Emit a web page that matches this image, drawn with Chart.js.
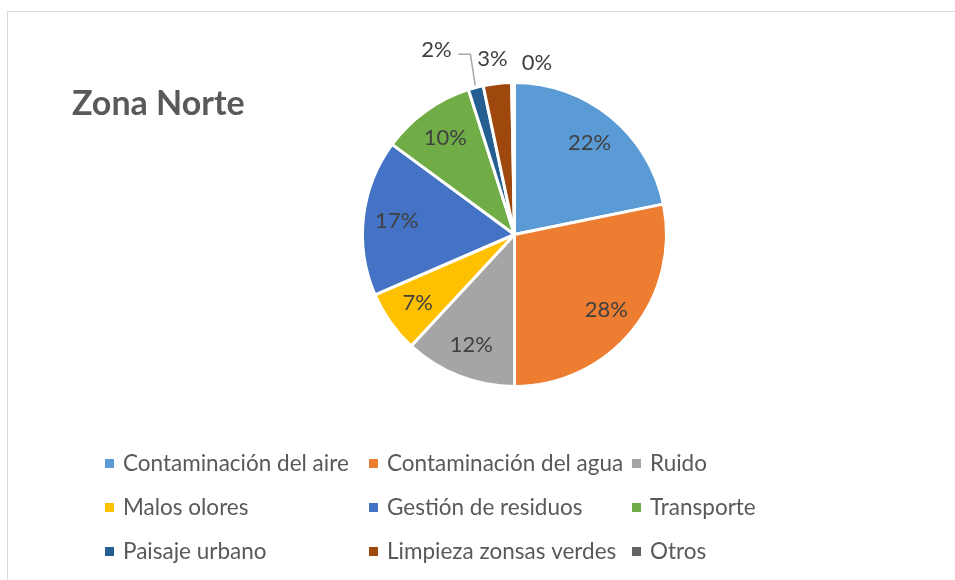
<!DOCTYPE html>
<html>
<head>
<meta charset="utf-8">
<script src="https://cdn.jsdelivr.net/npm/chart.js@4.4.1/dist/chart.umd.min.js"></script>
<style>
    html, body { margin: 0; padding: 0; background: #fff; }
    #wrap { position: relative; width: 955px; height: 580px; }
    #frame {
        position: absolute; left: 7px; top: 11px; right: 0; bottom: 0;
        border-left: 1px solid #d9d9d9; border-top: 1px solid #d9d9d9;
    }
    canvas { position: absolute; left: 0; top: 0; }
</style>
</head>
<body>
<div id="wrap">
    <div id="frame"></div>
    <canvas id="pieChart" width="955" height="580"></canvas>
</div>
<script>
const chartTitle = "Zona Norte";
const categories = [
    "Contaminación del aire", "Contaminación del agua", "Ruido",
    "Malos olores", "Gestión de residuos", "Transporte",
    "Paisaje urbano", "Limpieza zonsas verdes", "Otros"
];
// shares in percent
const shares = [21.8, 28.2, 11.9, 6.6, 16.6, 10.0, 1.6, 3.0, 0.3];
const colors = [
    "#5B9BD5", "#ED7D31", "#A5A5A5", "#FFC000", "#4472C4",
    "#70AD47", "#255E91", "#9E480E", "#636363"
];

const FONT = "Lato, 'Open Sans', sans-serif";

// labels for the tiny slices sit outside the pie (dx, dy nudges from the arc anchor)
const outsideLabels = { 6: { dx: -33, dy: -13, leader: true }, 7: { dx: -2, dy: 0 }, 8: { dx: 24, dy: 5 } };

const decorations = {
    id: "decorations",
    afterDraw(chart) {
        const ctx = chart.ctx;
        const meta = chart.getDatasetMeta(0);
        ctx.save();

        // title
        ctx.fillStyle = "#595959";
        ctx.font = "bold 34px " + FONT;
        ctx.textAlign = "left";
        ctx.textBaseline = "middle";
        ctx.fillText(chartTitle, 72, 104);

        // percentage labels
        ctx.font = "22px " + FONT;
        ctx.textAlign = "center";
        meta.data.forEach((arc, i) => {
            const { x, y, startAngle, endAngle, outerRadius } = arc.getProps(
                ["x", "y", "startAngle", "endAngle", "outerRadius"], true);
            const mid = (startAngle + endAngle) / 2;
            const text = Math.round(shares[i]) + "%";
            const out = outsideLabels[i];
            let lx, ly;
            if (out) {
                const r = outerRadius + 25;
                lx = x + Math.cos(mid) * r + out.dx;
                ly = y + Math.sin(mid) * r + out.dy;
                if (out.leader) {
                    ctx.strokeStyle = "#a6a6a6";
                    ctx.lineWidth = 1.5;
                    ctx.beginPath();
                    ctx.moveTo(lx + 22, ly + 4);
                    ctx.lineTo(lx + 34, ly + 4);
                    ctx.lineTo(x + Math.cos(mid) * (outerRadius + 2), y + Math.sin(mid) * (outerRadius + 2));
                    ctx.stroke();
                }
            } else {
                const r = outerRadius * 0.78;
                lx = x + Math.cos(mid) * r;
                ly = y + Math.sin(mid) * r;
            }
            ctx.fillStyle = "#404040";
            ctx.fillText(text, lx, ly);
        });

        // legend, three columns
        const colX = [105, 369, 632];
        const rowY = [463, 507, 551];
        ctx.font = "22.5px " + FONT;
        ctx.textAlign = "left";
        categories.forEach((name, i) => {
            const cx = colX[i % 3];
            const cy = rowY[Math.floor(i / 3)];
            ctx.fillStyle = colors[i];
            ctx.fillRect(cx, cy - 4, 9, 9);
            ctx.fillStyle = "#595959";
            ctx.fillText(name, cx + 18, cy + 1);
        });

        ctx.restore();
    }
};

new Chart(document.getElementById("pieChart"), {
    type: "pie",
    data: {
        labels: categories,
        datasets: [
            {
                data: shares,
                backgroundColor: colors,
                borderColor: "#ffffff",
                borderWidth: 3
            }
        ]
    },
    options: {
        responsive: false,
        animation: false,
        radius: 152,
        layout: {
            padding: { left: 74, right: 0, top: 82, bottom: 193 }
        },
        plugins: {
            legend: { display: false },
            tooltip: { enabled: false }
        }
    },
    plugins: [decorations]
});
</script>
</body>
</html>
